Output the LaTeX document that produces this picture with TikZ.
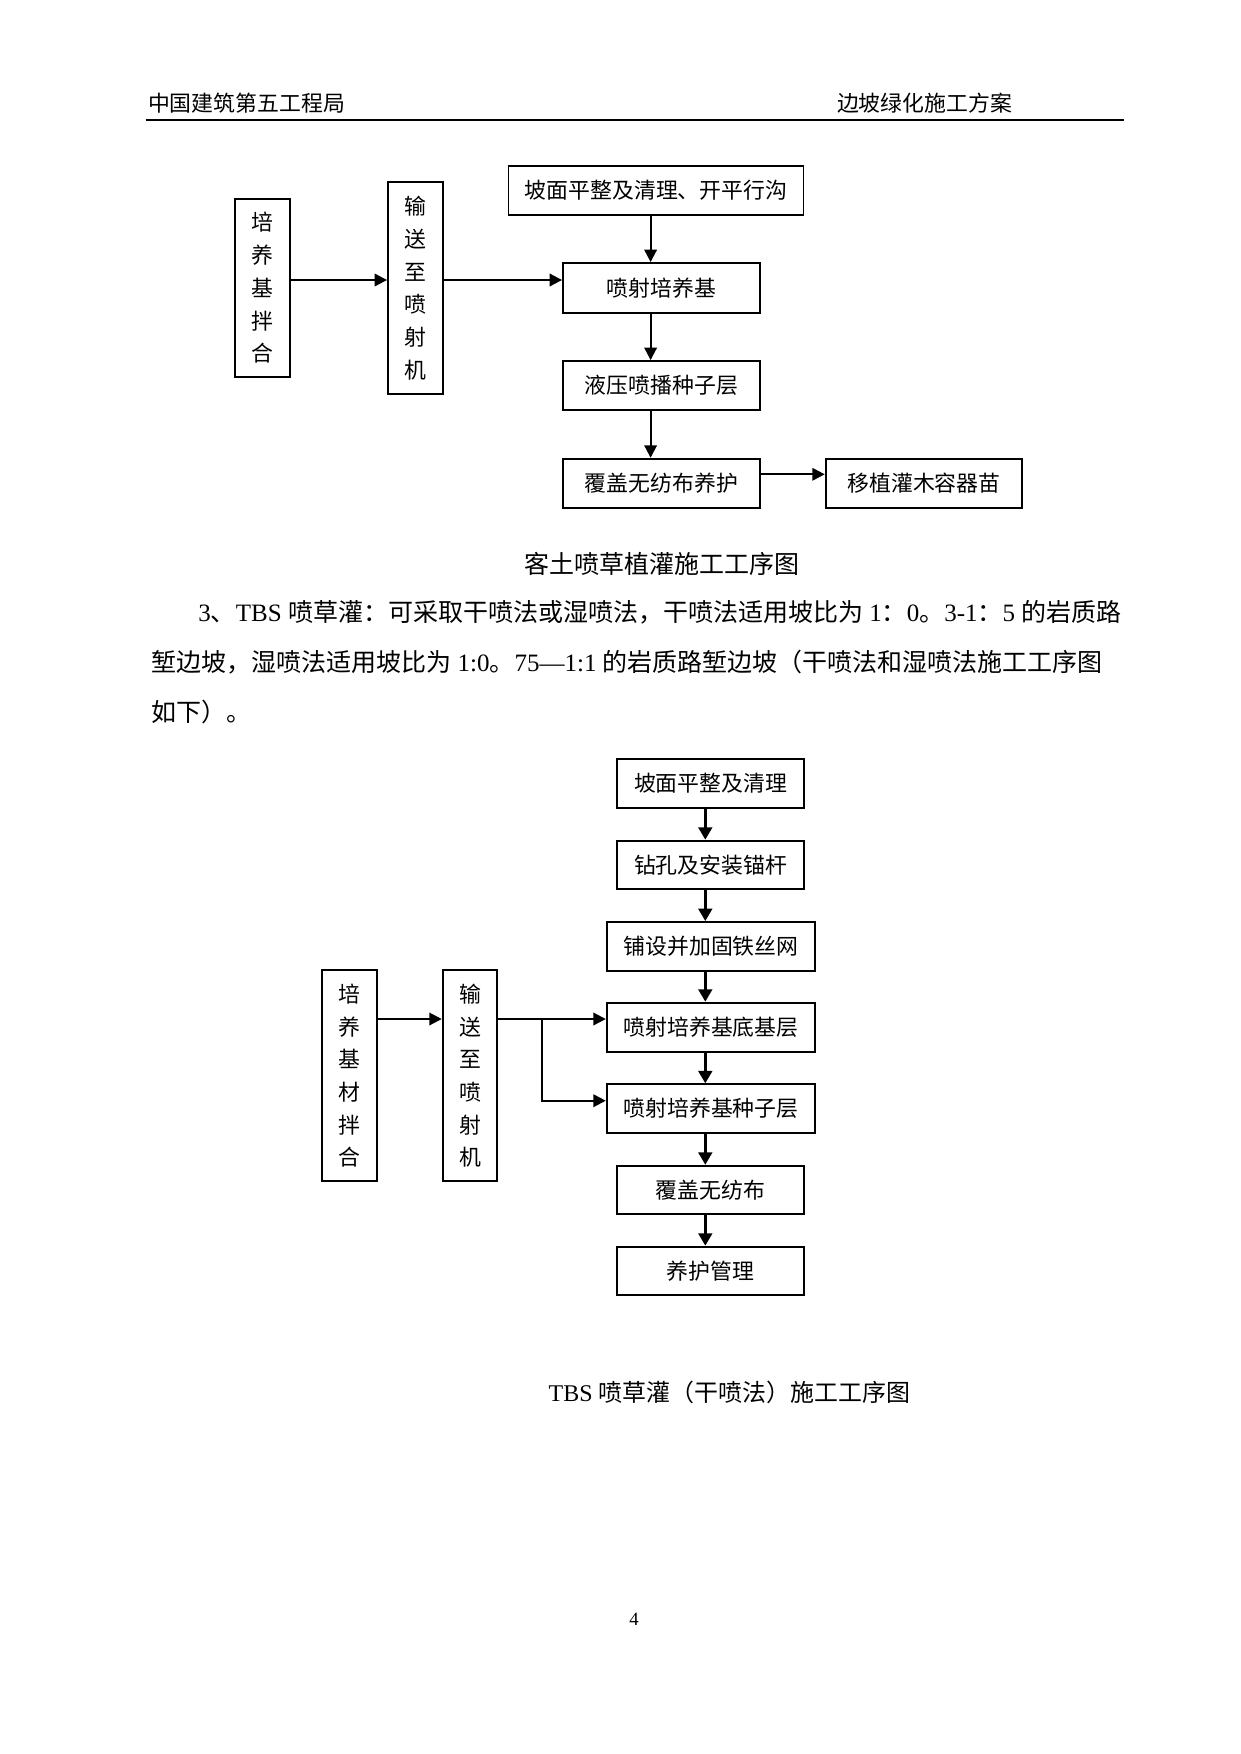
\documentclass[tikz,border=0pt]{standalone}
\usepackage{fontspec}
\setmainfont{Liberation Serif}
\newfontfamily\cjk{Noto Sans CJK SC}
\usetikzlibrary{arrows.meta}
\newcommand\lt{\rmfamily}
\def\pu{0.48pt}
\XeTeXinterchartokenstate=1
\XeTeXinterchartoks 1 1 = {\hskip 0pt plus 1pt\relax}
\XeTeXinterchartoks 1 2 = {\hskip 0pt plus 1pt\relax}
\XeTeXinterchartoks 1 3 = {\hskip 0pt plus 1pt\relax}
\XeTeXinterchartoks 2 1 = {\hskip 0pt plus 1pt\relax}
\XeTeXinterchartoks 3 1 = {\hskip 0pt plus 1pt\relax}
\XeTeXinterchartoks 3 2 = {\hskip 0pt plus 1pt\relax}
\XeTeXinterchartoks 3 3 = {\hskip 0pt plus 1pt\relax}
\begin{document}
\begin{tikzpicture}[
  x=0.48pt, y=-0.48pt,
  box/.style={draw, line width=0.9pt, inner sep=0pt, align=center,
    font=\cjk\fontsize{10.5pt}{15.7pt}\selectfont},
  arr/.style={line width=1pt, -{Triangle[length=6pt,width=6pt]}},
  arrb/.style={line width=1.6pt, -{Triangle[length=6pt,width=6.5pt]}},
  txt/.style={inner sep=0pt, anchor=base west},
]
\fill[white] (0,0) rectangle (1241,1754);
\path[use as bounding box] (0,0) rectangle (1241,1754);

% header
\node[txt, font=\cjk\fontsize{10.5pt}{12pt}\selectfont] (h1) at (147.7,111.5) {中国建筑第五工程局};
\node[txt, font=\cjk\fontsize{10.5pt}{12pt}\selectfont] (h2) at (836.6,111.5) {边坡绿化施工方案};
\coordinate (hl) at (145.6,120);
\coordinate (hr) at (1124,120);
\draw[line width=1.2pt] (hl) -- (hr);

% top diagram
\node[box, minimum width=55*\pu, minimum height=178*\pu] (A1) at (262.5,288) {培\\养\\基\\拌\\合};
\node[box, minimum width=55*\pu, minimum height=212*\pu] (A2) at (415.5,288) {输\\送\\至\\喷\\射\\机};
\node[box, minimum width=295*\pu, minimum height=49*\pu] (A3) at (656,190.5) {坡面平整及清理、开平行沟};
\node[box, minimum width=197*\pu, minimum height=50*\pu] (A4) at (661.5,288) {喷射培养基};
\node[box, minimum width=197*\pu, minimum height=49*\pu] (A5) at (661.5,385.5) {液压喷播种子层};
\node[box, minimum width=197*\pu, minimum height=49*\pu] (A6) at (661.5,483.2) {覆盖无纺布养护};
\node[box, minimum width=196.6*\pu, minimum height=49*\pu] (A7) at (924,483.2) {移植灌木容器苗};

\coordinate (r1) at (0,280);
\coordinate (c1) at (650.6,0);
\coordinate (r4) at (0,474.3);
\draw[arr] (A1.east |- r1) -- (A2.west |- r1);
\draw[arr] (A2.east |- r1) -- (A4.west |- r1);
\draw[arr] (A3.south -| c1) -- (A4.north -| c1);
\draw[arr] (A4.south -| c1) -- (A5.north -| c1);
\draw[arr] (A5.south -| c1) -- (A6.north -| c1);
\draw[arr] (A6.east |- r4) -- (A7.west |- r4);

\node[txt, font=\cjk\fontsize{12pt}{14pt}\selectfont] (cap1) at (524,573) {客土喷草植灌施工工序图};

% paragraph
\node[txt, font=\cjk\fontsize{12pt}{14pt}\selectfont] (p1) at (198,621.5) {\hbox to 443.04pt{{\lt 3}、{\lt TBS}\kern3pt 喷草灌：可采取干喷法或湿喷法，干喷法适用坡比为\kern3pt{\lt 1}：{\lt 0}。{\lt 3-1}：{\lt 5}\kern3pt 的岩质路}};
\node[txt, font=\cjk\fontsize{12pt}{14pt}\selectfont] (p2) at (151,671) {\hbox to 466.08pt{堑边坡，湿喷法适用坡比为\kern3pt{\lt 1:0}。{\lt 75—1:1}\kern3pt 的岩质路堑边坡（干喷法和湿喷法施工工序图}};
\node[txt, font=\cjk\fontsize{12pt}{14pt}\selectfont] (p3) at (151,721) {如下）。};

% bottom diagram
\node[box, minimum width=186.5*\pu, minimum height=48.4*\pu] (B1) at (710.6,783.5) {坡面平整及清理};
\node[box, minimum width=186.5*\pu, minimum height=48.6*\pu] (B2) at (710.6,865) {钻孔及安装锚杆};
\node[box, minimum width=208.5*\pu, minimum height=48.7*\pu] (B3) at (711,946.4) {铺设并加固铁丝网};
\node[box, minimum width=208.5*\pu, minimum height=49*\pu] (B4) at (711,1027.2) {喷射培养基底基层};
\node[box, minimum width=208.5*\pu, minimum height=48.4*\pu] (B5) at (711,1108.5) {喷射培养基种子层};
\node[box, minimum width=186.5*\pu, minimum height=48.3*\pu] (B6) at (710.6,1189.9) {覆盖无纺布};
\node[box, minimum width=186.5*\pu, minimum height=48.6*\pu] (B7) at (710.6,1271) {养护管理};
\node[box, minimum width=55*\pu, minimum height=210.7*\pu] (B8) at (349.8,1075.7) {培\\养\\基\\材\\拌\\合};
\node[box, minimum width=54.6*\pu, minimum height=210.7*\pu] (B9) at (470,1075.7) {输\\送\\至\\喷\\射\\机};

\coordinate (c2) at (705.3,0);
\coordinate (r2) at (0,1019);
\coordinate (r3) at (0,1100.7);
\coordinate (k) at (541.7,1019);
\draw[arrb] (B1.south -| c2) -- (B2.north -| c2);
\draw[arrb] (B2.south -| c2) -- (B3.north -| c2);
\draw[arrb] (B3.south -| c2) -- (B4.north -| c2);
\draw[arrb] (B4.south -| c2) -- (B5.north -| c2);
\draw[arrb] (B5.south -| c2) -- (B6.north -| c2);
\draw[arrb] (B6.south -| c2) -- (B7.north -| c2);
\draw[arr] (B8.east |- r2) -- (B9.west |- r2);
\draw[arr] (B9.east |- r2) -- (B4.west |- r2);
\draw[arr] (k) |- (B5.west |- r3);

\node[txt, font=\cjk\fontsize{11.5pt}{13pt}\selectfont] (cap2) at (548.3,1401) {{\lt TBS}\kern3pt 喷草灌（干喷法）施工工序图};

\node[inner sep=0pt, anchor=base, font=\fontsize{9pt}{10pt}\selectfont] (pg) at (634,1625) {4};
\end{tikzpicture}
\end{document}
